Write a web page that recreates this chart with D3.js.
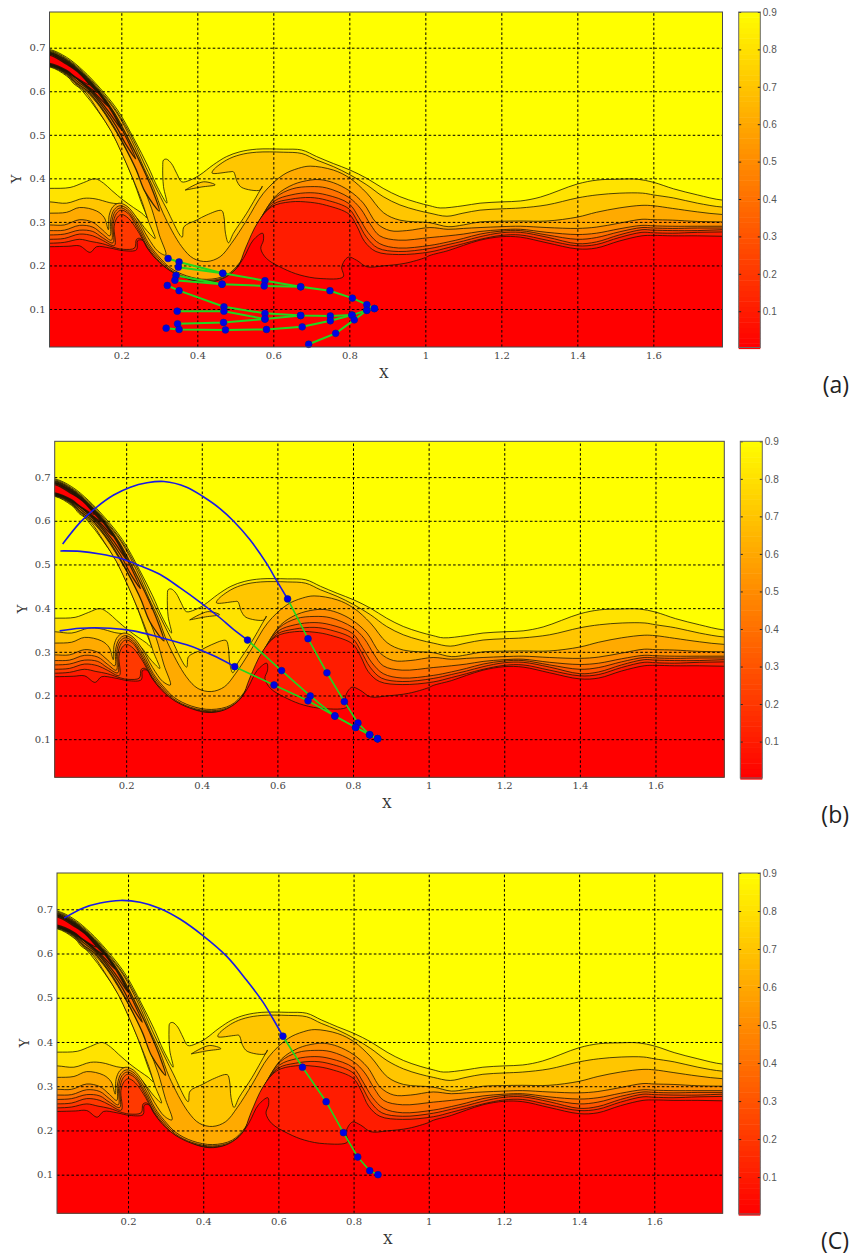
<!DOCTYPE html>
<html>
<head>
<meta charset="utf-8">
<script src="https://cdn.jsdelivr.net/npm/d3@7"></script>
<style>
  html, body { margin: 0; padding: 0; background: #fff; }
  svg { display: block; }
</style>
</head>
<body>
<svg id="chart" width="850" height="1258"></svg>
<script>
const X_DOMAIN = [0.011, 1.782];
const Y_DOMAIN = [0.0127, 0.782];
const xTicks = [0.2, 0.4, 0.6, 0.8, 1, 1.2, 1.4, 1.6];
const yTicks = [0.1, 0.2, 0.3, 0.4, 0.5, 0.6, 0.7];
const barTicks = [0.1, 0.2, 0.3, 0.4, 0.5, 0.6, 0.7, 0.8, 0.9];
const bandValues = [0.8, 0.7, 0.6, 0.5, 0.4, 0.3, 0.2, 0.1, 0];

// contour lines, in X/Y units, left to right
const level1 = [[.011,.377],[.065,.379],[.1,.39],[.131,.399],[.153,.389],[.175,.372],[.205,.35],[.232,.333],[.254,.32],[.267,.31],
  [.252,.346],[.228,.404],[.198,.465],[.172,.511],[.138,.555],[.1,.598],[.056,.635],[.011,.656],[-.05,.656],[-.05,.696],
  [.011,.696],[.056,.678],[.1,.647],[.144,.607],[.19,.557],[.235,.488],[.27,.428],[.295,.38],[.32,.343],
  [.311,.381],[.309,.427],[.311,.442],[.319,.444],[.332,.434],[.346,.411],[.359,.392],[.381,.396],[.407,.408],[.442,.431],[.477,.45],[.512,.461],
  [.556,.467],[.626,.467],[.675,.465],[.714,.45],[.758,.434],[.802,.419],[.846,.4],[.889,.377],[.933,.358],[.977,.345],
  [1.012,.337],[1.039,.332],[1.099,.337],[1.144,.343],[1.202,.346],[1.25,.348],[1.303,.357],[1.4,.387],[1.452,.396],[1.505,.398],[1.558,.398],[1.6,.391],[1.653,.376],[1.716,.362],[1.782,.35]];

const level2 = [[.011,.346],[.056,.343],[.1,.354],[.131,.353],[.17,.344],[.205,.338],[.24,.31],[.267,.28],[.289,.262],
  [.272,.3],[.255,.345],[.23,.4],[.2,.46],[.174,.507],[.141,.553],[.103,.6],[.075,.617],[.056,.637],[.011,.657],[-.05,.657],[-.05,.694],
  [.011,.694],[.056,.675],[.1,.644],[.144,.603],[.188,.554],[.232,.487],[.265,.425],[.29,.38],[.318,.332],[.36,.265],
  [.365,.289],[.398,.304],[.425,.316],[.464,.326],[.47,.312],[.474,.274],[.482,.252],
  [.495,.274],[.53,.32],[.571,.382],[.565,.373],[.517,.379],[.505,.392],[.495,.415],[.486,.415],[.439,.412],[.442,.419],[.477,.442],[.512,.454],
  [.556,.46],[.626,.46],[.675,.457],[.714,.442],[.758,.427],[.802,.408],[.846,.385],[.889,.358],[.933,.339],[.977,.327],
  [1.012,.32],[1.057,.313],[1.099,.32],[1.144,.327],[1.202,.33],[1.25,.332],[1.32,.339],[1.4,.355],[1.452,.362],[1.512,.366],[1.572,.366],[1.6,.362],[1.653,.355],[1.716,.343],[1.782,.334]];
const level2Island = [[.368,.373],[.416,.392],[.447,.385],[.41,.38],[.368,.373]];

const level3 = [[.011,.32],[.056,.322],[.09,.333],[.135,.325],[.155,.31],[.166,.282],[.168,.315],[.178,.335],[.194,.343],[.215,.336],[.24,.31],[.27,.264],[.297,.232],[.317,.224],
  [.3,.27],[.28,.33],[.258,.38],[.235,.43],[.203,.482],[.172,.527],[.143,.565],[.107,.6],[.078,.618],[.056,.639],[.011,.658],[-.05,.658],[-.05,.692],
  [.011,.692],[.056,.673],[.1,.641],[.144,.6],[.187,.552],[.228,.486],[.26,.423],[.285,.377],[.31,.32],[.359,.243],
  [.39,.216],[.425,.209],[.46,.22],[.49,.251],[.53,.304],[.574,.366],[.626,.408],[.666,.423],[.697,.428],[.758,.419],[.802,.4],[.846,.366],[.89,.321],[.933,.304],
  [1.012,.298],[1.06,.289],[1.1,.293],[1.144,.3],[1.2,.3015],[1.25,.302],[1.32,.302],[1.4,.311],[1.45,.322],[1.51,.332],[1.57,.338],[1.6,.337],[1.65,.331],[1.716,.323],[1.782,.317]];

const level4 = [[.011,.293],[.05,.293],[.09,.305],[.125,.299],[.15,.282],[.17,.268],[.172,.305],[.181,.328],[.196,.337],[.216,.33],[.245,.295],[.272,.25],[.297,.222],[.328,.195],[.372,.176],[.425,.168],[.477,.178],[.512,.207],[.539,.25],[.574,.318],[.609,.362],[.653,.386],[.697,.396],[.723,.397],[.758,.39],[.799,.372],[.837,.343],[.872,.297],[.907,.28],[.951,.28],
  [1.012,.287],[1.06,.283],[1.1,.285],[1.144,.287],[1.2,.289],[1.25,.29],[1.32,.287],[1.4,.285],[1.45,.288],[1.51,.297],[1.57,.306],[1.6,.305],[1.65,.304],[1.716,.301],[1.782,.3]];
const level4Jet = [[-.05,.69],[.011,.69],[.056,.671],[.1,.639],[.143,.598],[.182,.55],[.222,.485],[.256,.425],[.281,.375],[.3,.325],
  [.262,.37],[.239,.42],[.206,.478],[.178,.522],[.148,.562],[.112,.6],[.08,.62],[.056,.641],[.011,.659],[-.05,.659]];

const level5 = [[.011,.28],[.05,.281],[.09,.292],[.125,.288],[.15,.272],[.174,.258],[.175,.3],[.184,.324],[.197,.332],[.216,.325],[.245,.288],[.27,.247],[.295,.219],[.326,.192],[.37,.173],[.425,.165],[.477,.175],[.512,.204],[.536,.248],[.57,.313],[.606,.356],[.65,.376],[.697,.381],[.74,.378],[.799,.356],[.83,.33],[.855,.295],[.88,.268],[.93,.258],
  [1.012,.264],[1.06,.268],[1.1,.272],[1.144,.278],[1.2,.282],[1.25,.283],[1.32,.276],[1.4,.271],[1.45,.274],[1.51,.284],[1.57,.292],[1.6,.291],[1.65,.29],[1.716,.29],[1.782,.29]];
const level5Jet = [[-.05,.688],[.011,.688],[.056,.669],[.1,.637],[.143,.596],[.178,.552],[.212,.495],[.238,.445],
  [.212,.478],[.186,.52],[.155,.56],[.118,.6],[.085,.622],[.056,.643],[.011,.66],[-.05,.66]];

const level6 = [[.011,.27],[.05,.272],[.09,.281],[.125,.278],[.15,.264],[.178,.252],[.178,.295],[.187,.319],[.199,.327],[.217,.32],[.245,.282],[.268,.244],[.293,.216],[.324,.19],[.368,.171],[.425,.163],[.477,.172],[.51,.2],[.533,.245],[.567,.308],[.603,.348],[.647,.362],[.697,.367],[.74,.362],[.799,.342],[.825,.31],[.85,.275],[.88,.25],[.93,.24],
  [1.012,.246],[1.06,.254],[1.1,.262],[1.144,.272],[1.2,.279],[1.25,.28],[1.32,.27],[1.4,.26],[1.45,.264],[1.51,.277],[1.57,.287],[1.6,.286],[1.65,.285],[1.716,.286],[1.782,.286]];
const level6Jet = [[-.05,.687],[.011,.687],[.056,.667],[.1,.635],[.143,.594],[.175,.553],[.2,.512],
  [.165,.555],[.125,.597],[.088,.625],[.056,.645],[.011,.661],[-.05,.661]];

const level7 = [[.011,.26],[.05,.262],[.09,.272],[.125,.268],[.15,.258],[.182,.246],[.181,.29],[.19,.311],[.201,.317],[.219,.308],[.247,.274],[.268,.24],[.291,.213],[.322,.188],[.366,.17],[.425,.161],[.477,.17],[.508,.197],[.53,.242],[.564,.303],[.6,.341],[.645,.352],[.697,.356],[.74,.35],[.799,.33],[.822,.3],[.845,.265],[.875,.24],[.93,.232],
  [1.012,.239],[1.06,.248],[1.1,.256],[1.144,.266],[1.2,.275],[1.25,.276],[1.32,.265],[1.4,.25],[1.45,.254],[1.51,.27],[1.57,.282],[1.6,.281],[1.65,.28],[1.716,.28],[1.782,.282]];
const level7Jet = [[-.05,.686],[.011,.686],[.056,.666],[.1,.633],[.14,.595],[.165,.565],
  [.125,.6],[.09,.625],[.056,.646],[.011,.662],[-.05,.662]];

const level8 = [[.011,.251],[.05,.253],[.09,.26],[.12,.255],[.15,.25],[.186,.24],[.205,.237],[.235,.24],[.24,.26],[.25,.262],[.266,.242],[.29,.214],[.32,.187],[.365,.169],[.425,.16],[.477,.169],[.506,.195],[.527,.24],[.56,.3],[.596,.335],[.645,.346],[.697,.345],[.74,.338],[.799,.318],[.82,.29],[.84,.255],[.87,.232],[.93,.225],
  [1.012,.231],[1.06,.241],[1.1,.25],[1.144,.26],[1.2,.269],[1.25,.27],[1.32,.258],[1.4,.245],[1.45,.248],[1.51,.264],[1.57,.276],[1.6,.275],[1.65,.274],[1.716,.276],[1.782,.277]];
const level8Jet = [[-.05,.685],[.011,.685],[.056,.664],[.1,.63],[.135,.597],
  [.095,.622],[.056,.647],[.011,.663],[-.05,.663]];

const level9 = [[.011,.243],[.06,.244],[.09,.245],[.118,.23],[.135,.243],[.17,.24],[.205,.234],[.24,.236],[.243,.257],[.255,.258],[.268,.24],[.293,.213],[.328,.188],[.372,.17],[.416,.161],[.46,.167],[.495,.186],[.521,.216],[.547,.258],[.572,.274],[.574,.258],[.567,.239],[.582,.216],[.626,.193],[.67,.178],[.723,.17],[.784,.174],[.78,.197],[.797,.219],[.819,.212],[.846,.197],[.889,.199],[.947,.205],[1.0,.218],
  [1.012,.223],[1.06,.234],[1.1,.246],[1.144,.258],[1.2,.266],[1.25,.265],[1.32,.252],[1.4,.238],[1.45,.24],[1.51,.256],[1.57,.268],[1.6,.269],[1.65,.268],[1.716,.268],[1.782,.267]];
const level9Jet = [[-.05,.683],[.011,.683],[.056,.662],[.085,.645],[.115,.615],
  [.08,.632],[.056,.648],[.011,.664],[-.05,.664]];

const baseLevels = [level1, level2, level3, level4, level5, level6, level7, level8, level9];
const innerShapes = [[], [level2Island], [], [level4Jet], [level5Jet], [level6Jet], [level7Jet], [level8Jet], [level9Jet]];

// (a) tracked points
const greenA = [
  [[.323,.216],[.352,.208],[.467,.182],[.578,.165],[.672,.151],[.749,.142],[.808,.125],[.846,.11],[.866,.101]],
  [[.35,.196],[.467,.182]],
  [[.344,.177],[.465,.157],[.576,.153],[.672,.151]],
  [[.341,.166],[.465,.157]],
  [[.321,.154],[.352,.142],[.47,.105],[.578,.09],[.672,.085],[.75,.084],[.807,.086],[.846,.097],[.866,.101]],
  [[.347,.095],[.47,.095],[.578,.077],[.672,.085]],
  [[.348,.066],[.469,.069],[.578,.077]],
  [[.318,.056],[.352,.053],[.474,.052],[.582,.053],[.676,.059],[.75,.073],[.807,.086]],
  [[.693,.019],[.764,.044],[.813,.075],[.846,.097]]
];

// (b) trajectories
const blueB = [
  [[.032,.547],[.079,.597],[.123,.632],[.167,.659],[.211,.677],[.255,.687],[.3,.69],[.36,.677],[.404,.655],[.448,.628],[.483,.6],[.527,.557],[.571,.503],[.598,.463],[.627,.421]],
  [[.026,.531],[.079,.53],[.131,.524],[.184,.514],[.237,.497],[.29,.477],[.342,.447],[.395,.414],[.448,.378],[.483,.352],[.521,.327]],
  [[.024,.348],[.079,.354],[.158,.354],[.219,.348],[.29,.333],[.36,.316],[.395,.305],[.439,.288],[.487,.266]]
];
const greenB = [
  [[.627,.421],[.681,.33],[.731,.252],[.777,.186],[.813,.137],[.844,.11],[.865,.101]],
  [[.521,.327],[.611,.257],[.687,.199],[.752,.153],[.807,.127],[.844,.11],[.865,.101]],
  [[.487,.266],[.591,.224],[.681,.188],[.752,.153],[.807,.127],[.844,.11],[.865,.101]]
];

// (c) trajectory
const blueC = [
  [[.03,.68],[.081,.703],[.126,.714],[.179,.72],[.232,.716],[.285,.702],[.338,.678],[.4,.64],[.462,.594],[.515,.54],[.559,.49],[.586,.452],[.612,.413]]
];
const greenC = [
  [[.612,.413],[.664,.343],[.727,.265],[.773,.195],[.811,.14],[.843,.109],[.865,.1]]
];

const panels = [
  { left: 49.5, right: 722.5, top: 12, bottom: 347, barLeft: 738.7, barRight: 760.3, barBottom: 347.5,
    green: greenA, blue: [], greenWidth: 2, tag: "(a)", tagY: 393,
    xLabel: [384, 378], yLabel: [16, 179] },
  { left: 54.7, right: 724.3, top: 441.3, bottom: 777.3, barLeft: 740.3, barRight: 762.3, barBottom: 778,
    green: greenB, blue: blueB, greenWidth: 1.6, tag: "(b)", tagY: 823,
    xLabel: [387, 808], yLabel: [22, 609] },
  { left: 57, right: 722.7, top: 873, bottom: 1213.3, barLeft: 738.7, barRight: 760.3, barBottom: 1214,
    green: greenC, blue: blueC, greenWidth: 1.6, tag: "(C)", tagY: 1249,
    xLabel: [388, 1244], yLabel: [24, 1043] }
];

const svg = d3.select("#chart");
const colorScale = d3.scaleLinear().domain([0, 0.9]).range(["#ff0000", "#ffff00"]);

panels.forEach((panel, i) => drawPanel(panel, i));

function closeToBottom(points) {
  const first = points[0];
  const last = points[points.length - 1];
  return [[-0.05, first[1]], ...points, [1.85, last[1]], [1.85, 0], [-0.05, 0]];
}

function drawPanel(panel, index) {
  const x = d3.scaleLinear().domain(X_DOMAIN).range([panel.left, panel.right]);
  const y = d3.scaleLinear().domain(Y_DOMAIN).range([panel.bottom, panel.top]);
  const width = panel.right - panel.left;
  const height = panel.bottom - panel.top;

  const shape = d3.line()
    .x((d) => x(d[0]))
    .y((d) => y(d[1]))
    .curve(d3.curveCatmullRom.alpha(0.5));
  const straight = d3.line().x((d) => x(d[0])).y((d) => y(d[1]));

  const clipId = `plot-clip-${index}`;
  svg.append("clipPath").attr("id", clipId)
    .append("rect").attr("x", panel.left).attr("y", panel.top).attr("width", width).attr("height", height);

  const plot = svg.append("g").attr("clip-path", `url(#${clipId})`);
  plot.append("rect")
    .attr("x", panel.left).attr("y", panel.top).attr("width", width).attr("height", height)
    .attr("fill", colorScale(0.9));

  baseLevels.forEach((level, k) => {
    const fill = colorScale(bandValues[k]);
    const rings = [closeToBottom(level), ...innerShapes[k]];
    plot.selectAll(`.band-${k}`)
      .data(rings)
      .join("path")
      .attr("class", `band-${k}`)
      .attr("d", (d) => shape(d) + "Z")
      .attr("fill", fill)
      .attr("stroke", "#141400")
      .attr("stroke-opacity", 0.85)
      .attr("stroke-width", (d, j) => (j > 0 && k >= 3 ? 1.3 : 0.9));
  });

  // dashed grid comes from the axes with full length ticks
  const xGrid = svg.append("g")
    .attr("transform", `translate(0, ${panel.bottom})`)
    .call(d3.axisBottom(x).tickValues(xTicks).tickSize(-height).tickFormat(d3.format("~g")).tickPadding(5));
  const yGrid = svg.append("g")
    .attr("transform", `translate(${panel.left}, 0)`)
    .call(d3.axisLeft(y).tickValues(yTicks).tickSize(-width).tickFormat(d3.format("~g")).tickPadding(4));
  [xGrid, yGrid].forEach((axis) => {
    axis.select(".domain").remove();
    axis.selectAll(".tick line")
      .attr("stroke", "#000")
      .attr("stroke-width", 1)
      .attr("stroke-dasharray", "2.6,2.2");
    axis.selectAll(".tick text")
      .attr("font-family", "'DejaVu Serif', serif")
      .attr("font-size", 10)
      .attr("fill", "#444");
  });

  const overlay = svg.append("g");
  overlay.selectAll(".blue-line")
    .data(panel.blue)
    .join("path")
    .attr("class", "blue-line")
    .attr("d", shape)
    .attr("fill", "none")
    .attr("stroke", "#1a1ae6")
    .attr("stroke-width", 1.6);
  overlay.selectAll(".green-line")
    .data(panel.green)
    .join("path")
    .attr("class", "green-line")
    .attr("d", straight)
    .attr("fill", "none")
    .attr("stroke", "#1fd81f")
    .attr("stroke-width", panel.greenWidth);
  overlay.selectAll(".dot")
    .data(panel.green.flat())
    .join("circle")
    .attr("class", "dot")
    .attr("cx", (d) => x(d[0]))
    .attr("cy", (d) => y(d[1]))
    .attr("r", 3.4)
    .attr("fill", "#0000e6")
    .attr("stroke", "#00208a")
    .attr("stroke-width", 0.6);

  svg.append("rect")
    .attr("x", panel.left).attr("y", panel.top).attr("width", width).attr("height", height)
    .attr("fill", "none").attr("stroke", "#4a4a4a").attr("stroke-width", 1);

  svg.append("text")
    .attr("x", panel.xLabel[0]).attr("y", panel.xLabel[1])
    .attr("text-anchor", "middle")
    .attr("font-family", "'DejaVu Serif', serif").attr("font-size", 13).attr("fill", "#333")
    .text("X");
  svg.append("text")
    .attr("transform", `translate(${panel.yLabel[0]}, ${panel.yLabel[1]}) rotate(-90)`)
    .attr("text-anchor", "middle").attr("dy", "0.35em")
    .attr("font-family", "'DejaVu Serif', serif").attr("font-size", 13).attr("fill", "#333")
    .text("Y");

  drawColorBar(panel);

  svg.append("text")
    .attr("x", 849).attr("y", panel.tagY)
    .attr("text-anchor", "end")
    .attr("font-family", "'Open Sans', sans-serif").attr("font-size", 23).attr("fill", "#222")
    .text(panel.tag);
}

function drawColorBar(panel) {
  const bar = d3.scaleLinear().domain([0.003, 0.9]).range([panel.barBottom, panel.top]);
  const steps = d3.range(0, 64).map((i) => i / 64 * 0.9);
  const g = svg.append("g");
  g.selectAll("rect")
    .data(steps)
    .join("rect")
    .attr("x", panel.barLeft)
    .attr("width", panel.barRight - panel.barLeft)
    .attr("y", (d) => bar(d + 0.9 / 64))
    .attr("height", (d) => bar(d) - bar(d + 0.9 / 64) + 0.5)
    .attr("fill", (d) => colorScale(d));

  const axis = svg.append("g")
    .attr("transform", `translate(${panel.barRight}, 0)`)
    .call(d3.axisRight(bar).tickValues(barTicks).tickSize(-2.5).tickPadding(2.5).tickFormat(d3.format(".1f")));
  axis.select(".domain").remove();
  axis.selectAll(".tick line").attr("stroke", "#222");
  axis.selectAll(".tick text")
    .attr("font-family", "'Liberation Sans', sans-serif")
    .attr("font-size", 10)
    .attr("fill", "#555");
  axis.selectAll(".tick")
    .append("line")
    .attr("x1", panel.barLeft - panel.barRight).attr("x2", panel.barLeft - panel.barRight + 2.5)
    .attr("stroke", "#222");

  svg.append("rect")
    .attr("x", panel.barLeft).attr("y", panel.top)
    .attr("width", panel.barRight - panel.barLeft).attr("height", panel.barBottom - panel.top)
    .attr("fill", "none").attr("stroke", "#6a6a6a").attr("stroke-width", 1);
}
</script>
</body>
</html>
